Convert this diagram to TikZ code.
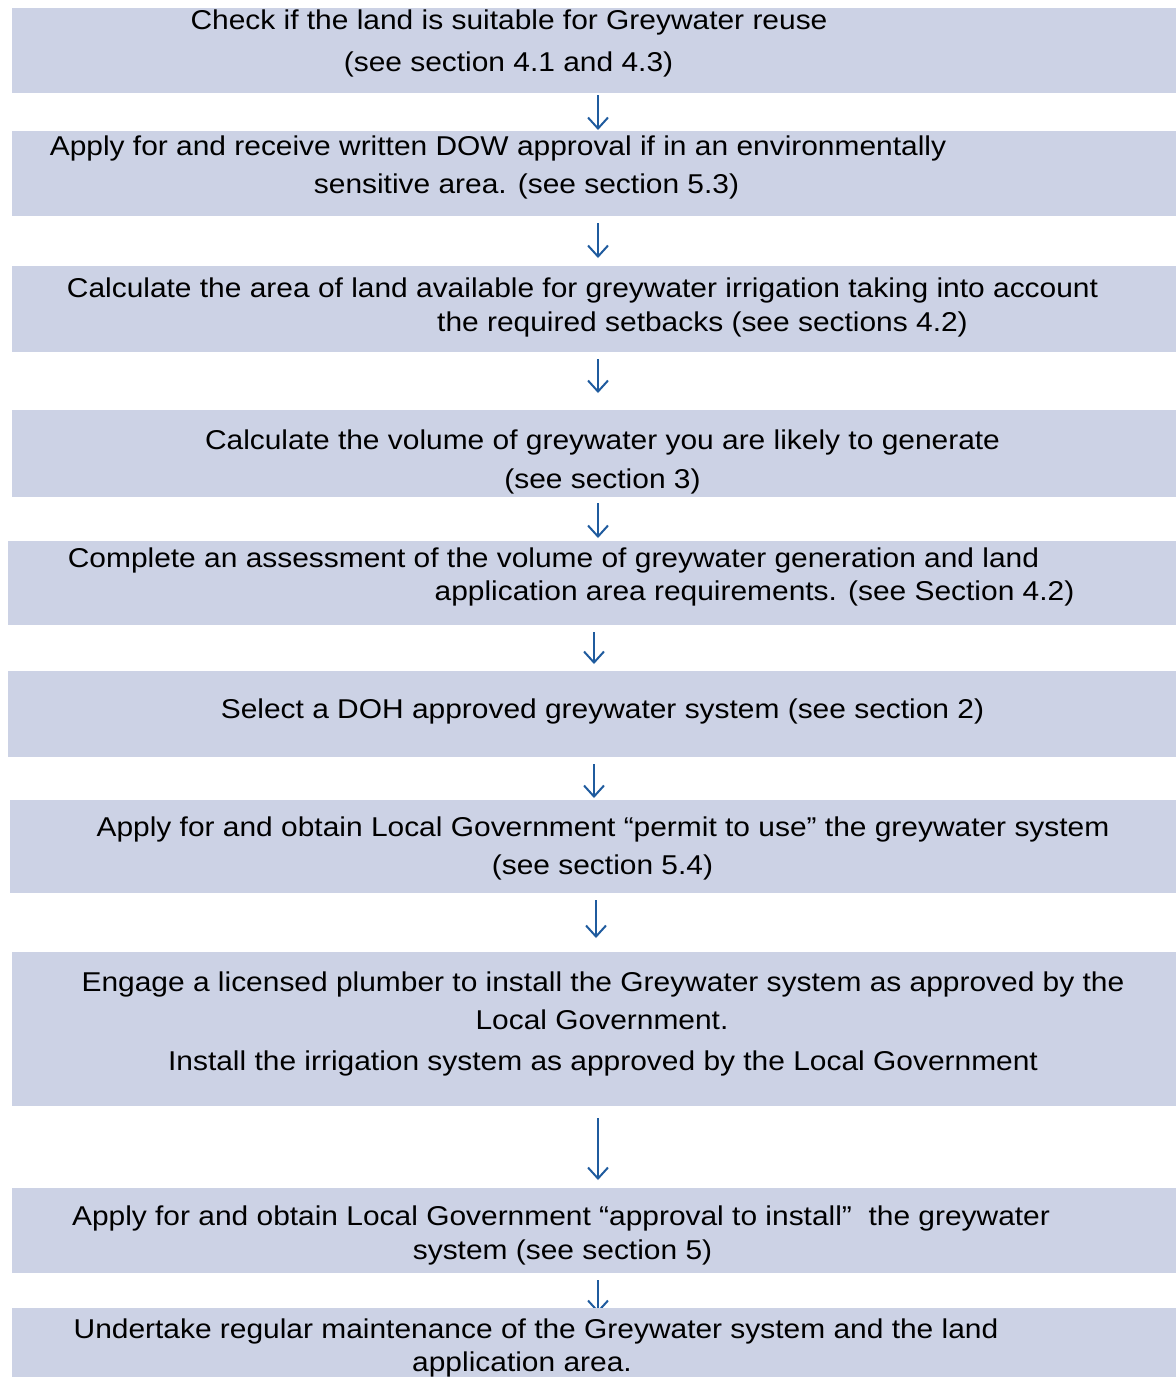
\documentclass[tikz,border=0pt]{standalone}
\usepackage{fontspec}
\setmainfont[FakeStretch=1.1]{Liberation Sans}
\usetikzlibrary{arrows.meta,fit}
\definecolor{boxfill}{RGB}{204,210,229}
\definecolor{arrowblue}{HTML}{1F5B9E}
\tikzset{
  stepbox/.style={fill=boxfill,draw=none,inner sep=0pt,outer sep=0pt},
  txt/.style={anchor=base,inner sep=0pt,font=\fontsize{13.6pt}{16pt}\selectfont},
  arr/.style={draw=arrowblue,line width=1pt,-{Straight Barb[length=5.5pt,width=10pt,line width=1pt]}}
}
\begin{document}
\begin{tikzpicture}[x=0.5pt,y=-0.5pt]
\useasboundingbox (0,0) rectangle (1176,1377);
% boxes
\node[stepbox,fit={(12,8) (1176,93)}] (b1) {};
\node[stepbox,fit={(12,131) (1176,216)}] (b2) {};
\node[stepbox,fit={(12,266) (1176,352)}] (b3) {};
\node[stepbox,fit={(12,410) (1176,497)}] (b4) {};
\node[stepbox,fit={(8,541) (1176,625)}] (b5) {};
\node[stepbox,fit={(8,671) (1176,757)}] (b6) {};
\node[stepbox,fit={(10,800) (1176,893)}] (b7) {};
\node[stepbox,fit={(12,952) (1176,1106)}] (b8) {};
\node[stepbox,fit={(12,1188) (1176,1273)}] (b9) {};
% arrow columns
\coordinate (c598) at (598,0);
\coordinate (c594) at (594,0);
\coordinate (c596) at (596,0);
% texts
\node[txt] (t1a) at (509,29) {Check if the land is suitable for Greywater reuse};
\node[txt] (t1b) at (508.5,71) {(see section 4.1 and 4.3)};
\node[txt] (t2a) at (498,155) {Apply for and receive written DOW approval if in an environmentally};
\node[txt] (t2b) at (526.5,193) {sensitive area. (see section 5.3)};
\node[txt] (t3a) at (582.5,297) {Calculate the area of land available for greywater irrigation taking into account};
\node[txt] (t3b) at (702.5,331) {the required setbacks (see sections 4.2)};
\node[txt] (t4a) at (602.5,449) {Calculate the volume of greywater you are likely to generate};
\node[txt] (t4b) at (602.5,488) {(see section 3)};
\node[txt] (t5a) at (553.5,567) {Complete an assessment of the volume of greywater generation and land};
\node[txt] (t5b) at (754.5,600) {application area requirements. (see Section 4.2)};
\node[txt] (t6a) at (602.5,718) {Select a DOH approved greywater system (see section 2)};
\node[txt] (t7a) at (603,836) {Apply for and obtain Local Government “permit to use” the greywater system};
\node[txt] (t7b) at (602.5,874) {(see section 5.4)};
\node[txt] (t8a) at (603,991) {Engage a licensed plumber to install the Greywater system as approved by the};
\node[txt] (t8b) at (602,1029) {Local Government.};
\node[txt] (t8c) at (603,1070) {Install the irrigation system as approved by the Local Government};
\node[txt] (t9a) at (561,1225) {Apply for and obtain Local Government “approval to install”\ \ the greywater};
\node[txt] (t9b) at (562.5,1259) {system (see section 5)};
% arrows
\draw[arr] ([yshift=-1pt]b1.south -| c598) -- ([yshift=0.5pt]b2.north -| c598);
\draw[arr] ([yshift=-3.5pt]b2.south -| c598) -- ([yshift=4pt]b3.north -| c598);
\draw[arr] ([yshift=-3.5pt]b3.south -| c598) -- ([yshift=8.5pt]b4.north -| c598);
\draw[arr] ([yshift=-3pt]b4.south -| c598) -- ([yshift=1.5pt]b5.north -| c598);
\draw[arr] ([yshift=-3.5pt]b5.south -| c594) -- ([yshift=3.5pt]b6.north -| c594);
\draw[arr] ([yshift=-3.5pt]b6.south -| c594) -- ([yshift=1pt]b7.north -| c594);
\draw[arr] ([yshift=-3.5pt]b7.south -| c596) -- ([yshift=7pt]b8.north -| c596);
\draw[arr] ([yshift=-6pt]b8.south -| c598) -- ([yshift=4pt]b9.north -| c598);
\coordinate (a9end) at (598,1313);
\draw[arr] ([yshift=-3.5pt]b9.south -| c598) -- (a9end);
% last box drawn over the last arrow tip
\node[stepbox,fit={(12,1308) (1176,1377)}] (b10) {};
\node[txt] (t10a) at (536,1338) {Undertake regular maintenance of the Greywater system and the land};
\node[txt] (t10b) at (522,1371) {application area.};
\end{tikzpicture}
\end{document}
